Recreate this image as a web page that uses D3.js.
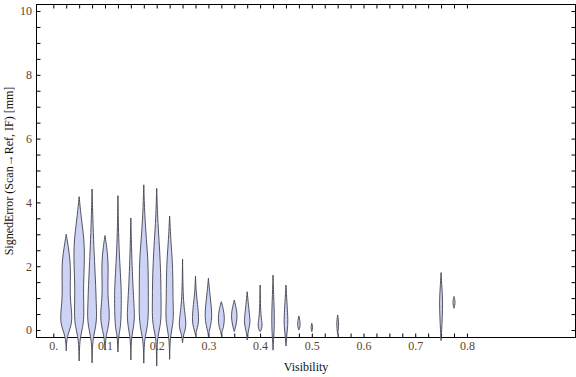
<!DOCTYPE html>
<html>
<head>
<meta charset="utf-8">
<script src="https://cdn.jsdelivr.net/npm/d3@7"></script>
<style>
  body { margin: 0; background: #fff; }
  svg text { font-family: "Liberation Serif", "DejaVu Serif", serif; }
</style>
</head>
<body>
<div id="viz"></div>
<script>
const width = 576;
const height = 377;
const frame = {left: 36.5, right: 575.5, top: 4.5, bottom: 337.5};

// visibility bin of each violin
const visibility = [0.025, 0.05, 0.075, 0.1, 0.125, 0.15, 0.175, 0.2, 0.225, 0.25,
  0.275, 0.3, 0.325, 0.35, 0.375, 0.4, 0.425, 0.45, 0.475, 0.5, 0.55, 0.75, 0.775];

// density profile of each violin: [signed error, relative density]
const profiles = [
  [[-0.65,0],[-0.4,0.05],[-0.2,0.2],[0,0.55],[0.2,0.9],[0.5,0.95],[0.9,0.7],[1.3,0.65],[1.8,0.72],[2.2,0.65],[2.6,0.35],[3.0,0]],
  [[-0.97,0],[-0.4,0.08],[-0.15,0.3],[0.1,0.6],[0.4,0.8],[0.9,0.75],[1.4,0.72],[2.0,0.85],[2.6,0.9],[3.1,0.65],[3.6,0.3],[4.18,0]],
  [[-1.03,0],[-0.5,0.05],[-0.2,0.25],[0.1,0.6],[0.4,0.78],[0.8,0.7],[1.4,0.6],[2.0,0.45],[2.6,0.3],[3.5,0.12],[4.42,0]],
  [[-0.63,0],[-0.2,0.15],[0,0.45],[0.3,0.72],[0.6,0.72],[1.1,0.45],[1.6,0.5],[2.1,0.55],[2.6,0.3],[2.96,0]],
  [[-0.69,0],[-0.2,0.1],[0,0.35],[0.3,0.5],[0.7,0.55],[1.2,0.58],[1.8,0.4],[2.5,0.2],[3.2,0.08],[4.21,0]],
  [[-0.94,0],[-0.5,0.03],[-0.2,0.15],[0.1,0.45],[0.4,0.62],[0.7,0.55],[1.2,0.4],[1.8,0.25],[2.6,0.1],[3.51,0]],
  [[-1.04,0],[-0.5,0.05],[-0.2,0.25],[0.1,0.6],[0.5,0.78],[1.0,0.75],[1.6,0.75],[2.2,0.7],[2.8,0.45],[3.6,0.15],[4.55,0]],
  [[-1.13,0],[-0.5,0.05],[-0.2,0.2],[0.1,0.55],[0.4,0.75],[0.9,0.72],[1.5,0.7],[2.1,0.6],[2.8,0.4],[3.5,0.15],[4.44,0]],
  [[-0.92,0],[-0.4,0.05],[-0.1,0.25],[0.2,0.55],[0.5,0.65],[1.0,0.55],[1.6,0.55],[2.2,0.45],[2.8,0.2],[3.57,0]],
  [[-0.4,0],[-0.15,0.15],[0,0.45],[0.2,0.6],[0.5,0.4],[0.9,0.15],[1.5,0.05],[2.22,0]],
  [[-0.15,0],[0,0.2],[0.15,0.45],[0.4,0.55],[0.8,0.35],[1.2,0.1],[1.69,0]],
  [[-0.2,0],[-0.05,0.1],[0.15,0.4],[0.45,0.6],[0.8,0.45],[1.2,0.2],[1.62,0]],
  [[-0.16,0],[-0.05,0.1],[0.1,0.4],[0.38,0.55],[0.65,0.35],[0.89,0]],
  [[-0.05,0],[0.05,0.15],[0.25,0.4],[0.5,0.5],[0.7,0.3],[0.94,0]],
  [[-0.31,0],[-0.1,0.1],[0.05,0.3],[0.25,0.5],[0.45,0.4],[0.8,0.2],[1.2,0]],
  [[-0.05,0],[0.02,0.25],[0.18,0.38],[0.4,0.15],[0.8,0.05],[1.41,0]],
  [[-0.63,0],[-0.3,0.08],[0,0.2],[0.5,0.22],[1.0,0.12],[1.72,0]],
  [[-0.5,0],[-0.2,0.1],[0.1,0.3],[0.4,0.32],[0.9,0.15],[1.41,0]],
  [[0,0],[0.1,0.2],[0.25,0.22],[0.44,0]],
  [[-0.05,0],[0.08,0.18],[0.21,0]],
  [[-0.13,0],[0.2,0.22],[0.47,0]],
  [[-0.33,0],[0,0.1],[0.4,0.2],[0.9,0.28],[1.3,0.15],[1.8,0]],
  [[0.68,0],[0.87,0.25],[1.05,0]]
];

const xTicks = d3.range(0, 0.8 + 1e-9, 0.025);
const xLabels = [0, 0.1, 0.2, 0.3, 0.4, 0.5, 0.6, 0.7, 0.8];
const yTicks = d3.range(0, 10 + 1e-9, 0.5);
const yLabels = [0, 2, 4, 6, 8, 10];

const svg = d3.select("#viz").append("svg")
  .attr("width", width)
  .attr("height", height);

const x = d3.scaleLinear().domain([-0.0325, 1.010]).range([frame.left, frame.right]);
const y = d3.scaleLinear().domain([-0.235, 10.204]).range([frame.bottom, frame.top]);
const w = d3.scaleLinear().domain([0, 1]).range([0, 6]);

const labelColor = "#5e4426";
const isLabel = (list, v) => list.some(l => Math.abs(l - v) < 1e-9);

// axes with inward ticks
const axisB = svg.append("g")
  .attr("transform", `translate(0,${frame.bottom})`)
  .call(d3.axisBottom(x).tickValues(xTicks).tickSize(-4).tickPadding(4)
    .tickFormat(d => isLabel(xLabels, d) ? (d === 0 ? "0." : d3.format(".1f")(d)) : ""));
const axisT = svg.append("g")
  .attr("transform", `translate(0,${frame.top})`)
  .call(d3.axisTop(x).tickValues(xTicks).tickSize(-4).tickFormat(""));
const axisL = svg.append("g")
  .attr("transform", `translate(${frame.left},0)`)
  .call(d3.axisLeft(y).tickValues(yTicks).tickSize(-4).tickPadding(4.5)
    .tickFormat(d => isLabel(yLabels, d) ? d3.format("d")(d) : ""));
const axisR = svg.append("g")
  .attr("transform", `translate(${frame.right},0)`)
  .call(d3.axisRight(y).tickValues(yTicks).tickSize(-4).tickFormat(""));

[axisB, axisT, axisL, axisR].forEach(g => {
  g.select(".domain").remove();
  g.selectAll(".tick line").attr("stroke", "#000");
  g.selectAll("text")
    .attr("fill", labelColor)
    .style("font-size", "12px")
    .style("font-family", '"Liberation Serif", serif');
});

svg.append("rect")
  .attr("x", frame.left)
  .attr("y", frame.top)
  .attr("width", frame.right - frame.left)
  .attr("height", frame.bottom - frame.top)
  .attr("fill", "none")
  .attr("stroke", "#000")
  .attr("stroke-width", 1);

// violins
const area = d3.area()
  .curve(d3.curveBasis)
  .y(d => y(d[0]));

svg.append("g")
  .selectAll("path")
  .data(profiles)
  .join("path")
    .attr("d", (p, i) => area
      .x0(d => x(visibility[i]) - w(d[1]))
      .x1(d => x(visibility[i]) + w(d[1]))(p))
    .attr("fill", "#ccd3f4")
    .attr("stroke", "#44444f")
    .attr("stroke-opacity", 0.9)
    .attr("stroke-width", 1);

// axis titles
svg.append("text")
  .attr("x", (frame.left + frame.right) / 2)
  .attr("y", 371)
  .attr("text-anchor", "middle")
  .style("font-size", "12px")
  .attr("fill", "#111")
  .text("Visibility");

svg.append("text")
  .attr("transform", `translate(9,${(frame.top + frame.bottom) / 2}) rotate(-90)`)
  .attr("text-anchor", "middle")
  .attr("dominant-baseline", "central")
  .style("font-size", "12px")
  .attr("fill", "#111")
  .text("SignedError (Scan\u2192Ref, IF) [mm]");
</script>
</body>
</html>
